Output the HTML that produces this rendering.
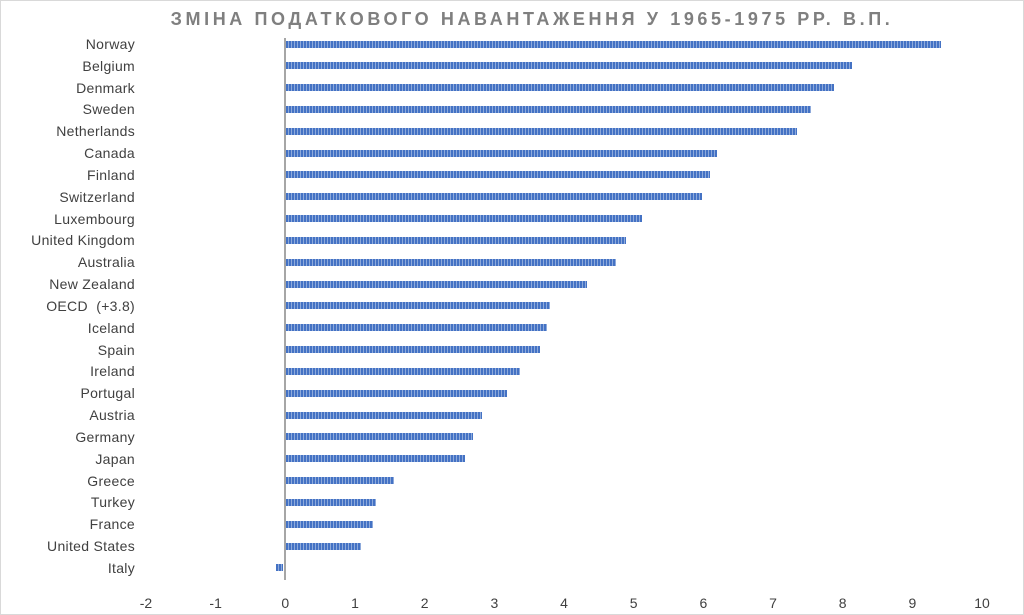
<!DOCTYPE html>
<html><head><meta charset="utf-8"><style>
body{margin:0;background:#fff;}
#c{position:relative;width:1022px;height:613px;border:1px solid #d9d9d9;overflow:hidden;font-family:"Liberation Sans",sans-serif;}
.t{position:absolute;top:8px;left:16px;width:1030px;text-align:center;font-size:18px;font-weight:bold;color:#7f7f7f;letter-spacing:3.6px;}
.l{position:absolute;right:888px;font-size:14px;color:#404040;white-space:nowrap;letter-spacing:0.3px;}
.b{position:absolute;height:7px;background:repeating-linear-gradient(90deg,#4472c4 0 2px,#8eaadb 2px 3px);}
.x{position:absolute;top:594px;font-size:14px;color:#404040;width:30px;margin-left:-15px;text-align:center;}
</style></head><body><div id="c">
<div class="t">ЗМІНА ПОДАТКОВОГО НАВАНТАЖЕННЯ У 1965-1975 РР. В.П.</div>
<div style="position:absolute;left:283px;top:37px;width:2px;height:542px;background:#a6a6a6"></div>
<div id="bars"></div>
</div>
<script>
var d=[["Norway",940],["Belgium",851],["Denmark",833],["Sweden",810],["Netherlands",796],["Canada",716],["Finland",709],["Switzerland",701],["Luxembourg",641],["United Kingdom",625],["Australia",615],["New Zealand",586],["OECD  (+3.8)",549],["Iceland",546],["Spain",539],["Ireland",519],["Portugal",506],["Austria",481],["Germany",472],["Japan",464],["Greece",393],["Turkey",375],["France",372],["United States",360],["Italy",275]];
var c=document.getElementById('c'),h='';
d.forEach(function(r,i){var y=43+i*21.83;
h+='<div class="l" style="top:'+(y-8)+'px">'+r[0].replace(/ /g,'&nbsp;')+'</div>';
var a=285,b=r[1];if(r[1]<285){a=275;b=282;}
h+='<div class="b" style="top:'+(y-3.5)+'px;left:'+a+'px;width:'+(b-a)+'px"></div>';});
for(var v=-2;v<=10;v++){h+='<div class="x" style="left:'+(145+(v+2)*69.67)+'px">'+v+'</div>';}
c.insertAdjacentHTML('beforeend',h);
</script>
</body></html>
